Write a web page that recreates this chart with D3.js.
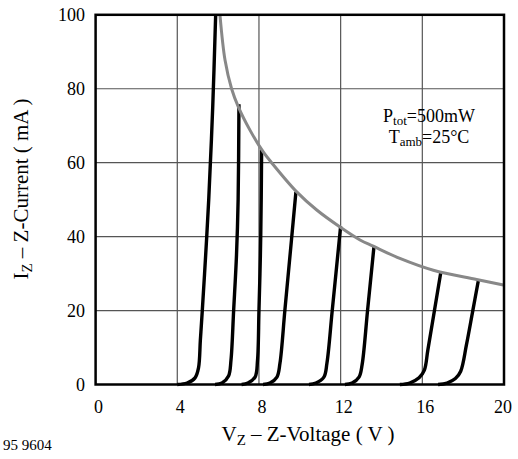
<!DOCTYPE html>
<html>
<head>
<meta charset="utf-8">
<script src="https://cdn.jsdelivr.net/npm/d3@7"></script>
<style>
  body { margin: 0; background: #fff; }
  text { font-family: "Liberation Serif", "Times New Roman", serif; fill: #000; }
</style>
</head>
<body>
<div id="chart"></div>
<script>
// axis ticks
const xTicks = [0, 4, 8, 12, 16, 20];
const yTicks = [0, 20, 40, 60, 80, 100];

// zener characteristics, [V, mA]
const zener1 = [[4.0, 0], [4.48, 0.4], [4.87, 1.8], [5.04, 4.5], [5.13, 12], [5.225, 20], [5.39, 35], [5.54, 50], [5.735, 75], [5.88, 100]];
const zener2 = [[5.85, 0], [6.19, 0.4], [6.51, 2.3], [6.63, 6.6], [6.76, 20], [6.9, 35], [6.98, 50], [7.02, 75.8]];
const zener3 = [[7.15, 0], [7.46, 0.4], [7.81, 2.0], [7.93, 6.6], [8.0, 20], [8.07, 35], [8.11, 50], [8.13, 63.4]];
const zener4 = [[8.2, 0], [8.54, 0.4], [8.88, 2.0], [9.03, 5.8], [9.27, 20.1], [9.59, 39], [9.81, 52.1]];
const zener5 = [[10.45, 0], [10.79, 0.4], [11.18, 2.0], [11.33, 5.8], [11.59, 20.1], [12.0, 42.8]];
const zener6 = [[12.21, 0], [12.56, 0.4], [12.9, 2.0], [13.05, 5.3], [13.32, 20.1], [13.63, 37.2]];
const zener7 = [[14.9, 0], [15.38, 0.4], [15.84, 1.8], [16.1, 3.9], [16.27, 9.3], [16.59, 19.9], [16.91, 30.5]];
const zener8 = [[16.77, 0], [17.21, 0.4], [17.62, 1.6], [17.88, 3.6], [18.16, 10.7], [18.47, 19.9], [18.74, 28]];

// power limit Ptot = 500mW
const limitCurve = [[6.09, 100], [6.34, 87.7], [6.66, 80], [6.99, 75.1], [7.56, 68.8], [8.21, 62.9], [8.62, 60],
  [9.85, 52.1], [10.83, 47.2], [11.97, 42.6], [12.95, 39.1], [13.6, 37.4], [14.9, 34.1], [16.54, 30.9],
  [18.66, 28.4], [19.97, 26.9]];

const zeners = [zener1, zener2, zener3, zener4, zener5, zener6, zener7, zener8];

const width = 518;
const height = 459;
const margin = {top: 14.8, left: 95.6, right: 14, bottom: 74.5};

const svg = d3.select("#chart")
  .append("svg")
  .attr("width", width)
  .attr("height", height);

const xScale = d3.scaleLinear()
  .domain([0, 20])
  .range([margin.left, width - margin.right]);

const yScale = d3.scaleLinear()
  .domain([0, 100])
  .range([height - margin.bottom, margin.top]);

/* grid */
svg.selectAll(".vgrid")
  .data(xTicks.slice(1, -1))
  .enter()
  .append("line")
  .attr("x1", d => xScale(d))
  .attr("x2", d => xScale(d))
  .attr("y1", yScale(0))
  .attr("y2", yScale(100))
  .attr("stroke", "#555")
  .attr("stroke-width", 1.2);

svg.selectAll(".hgrid")
  .data(yTicks.slice(1, -1))
  .enter()
  .append("line")
  .attr("x1", xScale(0))
  .attr("x2", xScale(20))
  .attr("y1", d => yScale(d))
  .attr("y2", d => yScale(d))
  .attr("stroke", "#555")
  .attr("stroke-width", 1.2);

/* curves */
const line = d3.line()
  .x(d => xScale(d[0]))
  .y(d => yScale(d[1]))
  .curve(d3.curveCatmullRom.alpha(0.5));

svg.selectAll(".zener")
  .data(zeners)
  .enter()
  .append("path")
  .attr("d", line)
  .attr("fill", "none")
  .attr("stroke", "#000")
  .attr("stroke-width", 3.4);

svg.append("path")
  .attr("d", line(limitCurve))
  .attr("fill", "none")
  .attr("stroke", "#888")
  .attr("stroke-width", 3);

/* frame */
svg.append("rect")
  .attr("x", xScale(0))
  .attr("y", yScale(100))
  .attr("width", xScale(20) - xScale(0))
  .attr("height", yScale(0) - yScale(100))
  .attr("fill", "none")
  .attr("stroke", "#000")
  .attr("stroke-width", 2.5);

/* tick labels */
svg.selectAll(".ylab")
  .data(yTicks)
  .enter()
  .append("text")
  .attr("x", 85)
  .attr("y", d => yScale(d) + 6)
  .attr("text-anchor", "end")
  .style("font-size", "18px")
  .text(d => d);

svg.selectAll(".xlab")
  .data(xTicks)
  .enter()
  .append("text")
  .attr("x", d => d === 20 ? xScale(d) + 8 : xScale(d) + 3)
  .attr("y", 413)
  .attr("text-anchor", d => d === 20 ? "end" : "middle")
  .style("font-size", "18px")
  .text(d => d);

/* axis titles */
const xt = svg.append("text")
  .attr("x", 308)
  .attr("y", 441)
  .attr("text-anchor", "middle")
  .style("font-size", "21px");
xt.append("tspan").text("V");
xt.append("tspan").attr("dy", 4).style("font-size", "15px").text("Z");
xt.append("tspan").attr("dy", -4).text(" \u2013 Z-Voltage ( V )");

const yt = svg.append("text")
  .attr("transform", "translate(28,189) rotate(-90)")
  .attr("text-anchor", "middle")
  .style("font-size", "21px");
yt.append("tspan").text("I");
yt.append("tspan").attr("dy", 4).style("font-size", "15px").text("Z");
yt.append("tspan").attr("dy", -4).text(" \u2013 Z-Current ( mA )");

svg.append("text")
  .attr("x", 3)
  .attr("y", 450)
  .style("font-size", "15px")
  .text("95 9604");

/* annotation */
const a1 = svg.append("text")
  .attr("x", 429)
  .attr("y", 122)
  .attr("text-anchor", "middle")
  .style("font-size", "18px");
a1.append("tspan").text("P");
a1.append("tspan").attr("dy", 3).style("font-size", "13px").text("tot");
a1.append("tspan").attr("dy", -3).text("=500mW");

const a2 = svg.append("text")
  .attr("x", 429)
  .attr("y", 143)
  .attr("text-anchor", "middle")
  .style("font-size", "18px");
a2.append("tspan").text("T");
a2.append("tspan").attr("dy", 3).style("font-size", "13px").text("amb");
a2.append("tspan").attr("dy", -3).text("=25\u00B0C");
</script>
</body>
</html>
